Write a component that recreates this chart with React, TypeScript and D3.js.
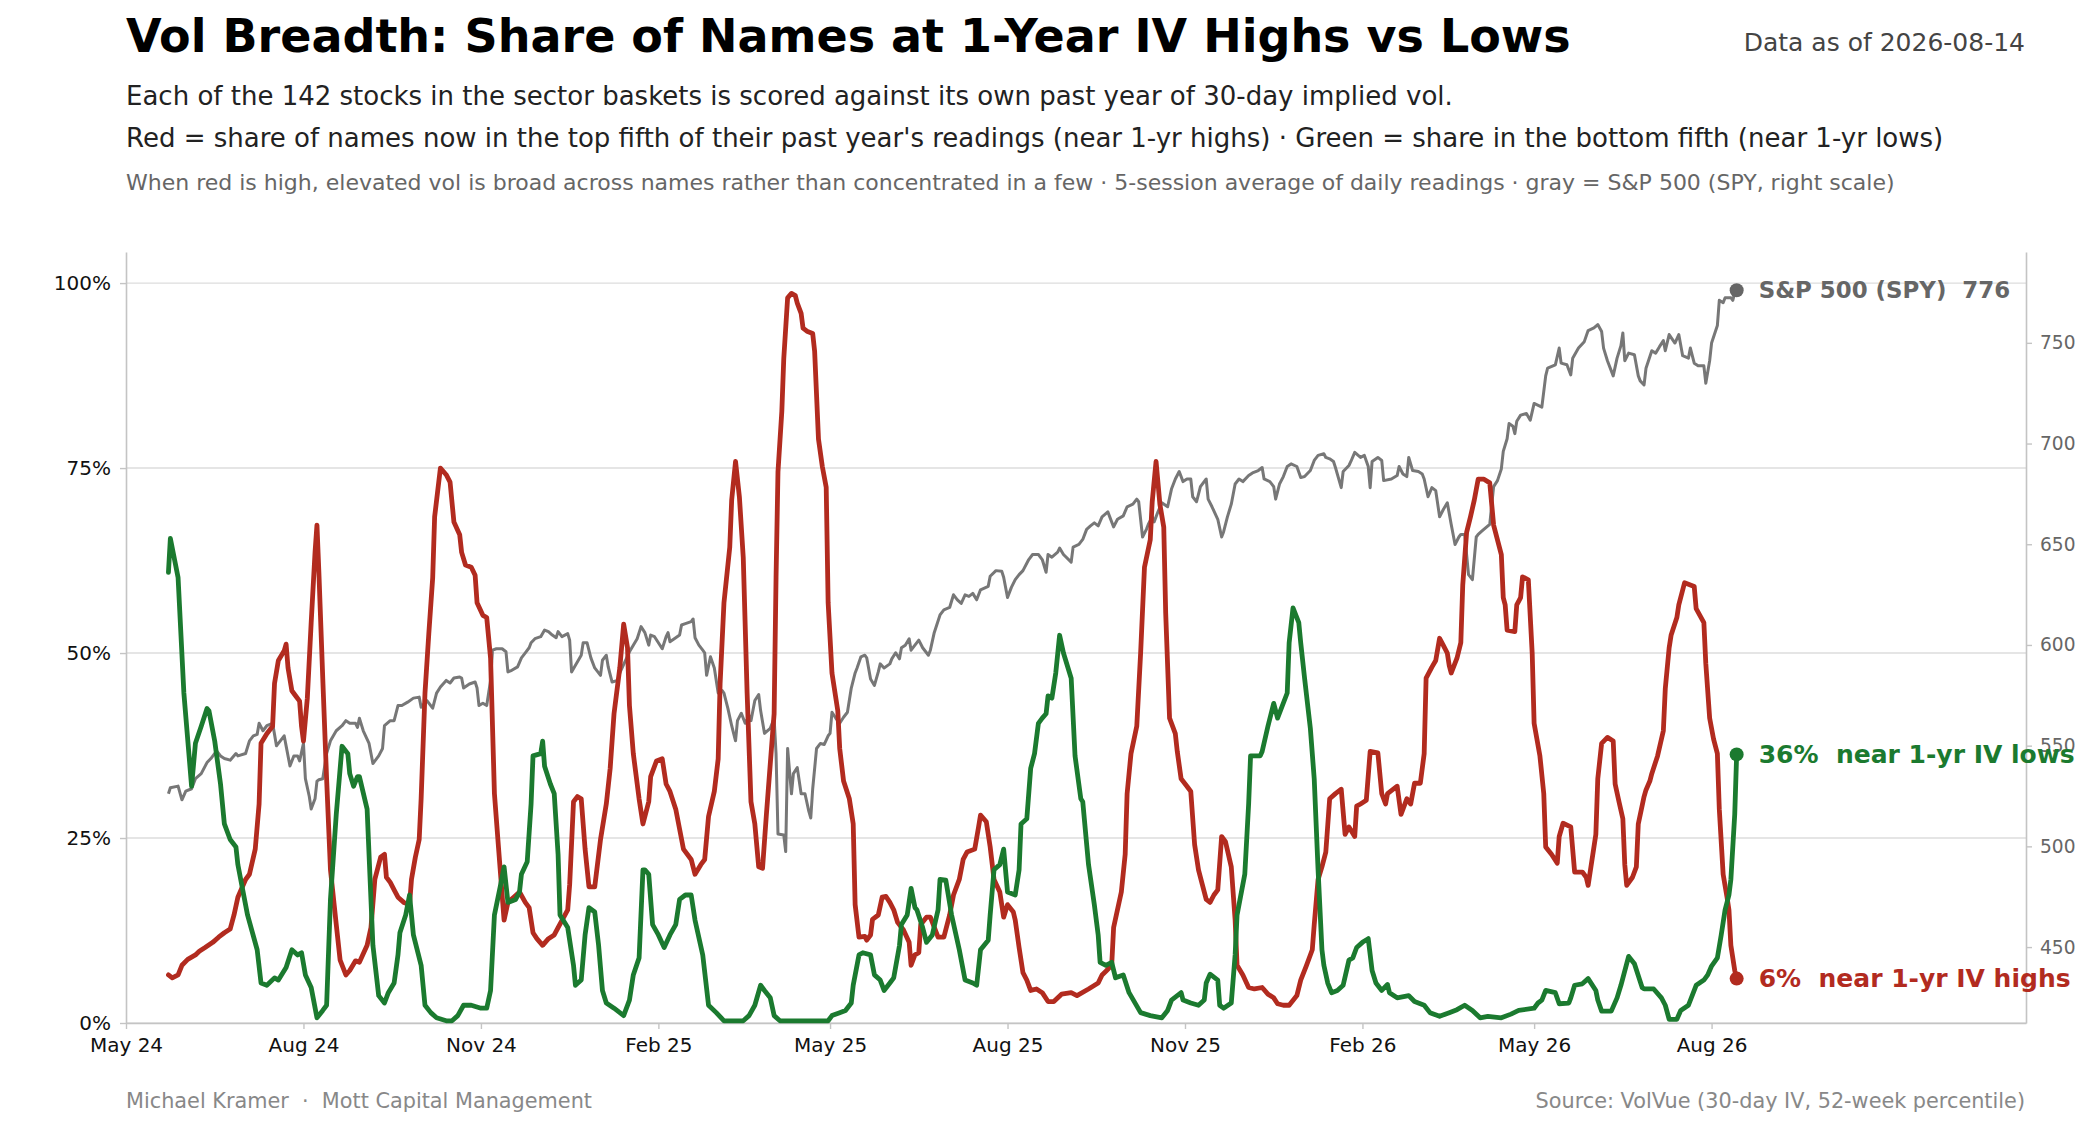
import React, { useEffect, useRef } from 'react';
import * as d3 from 'd3';

type Pt = [string, number];

// share of names in the top fifth of their 1-yr IV range (5-session avg), %
const redHighs: Pt[] = [
  ["2024-05-23",6.5],["2024-05-25",6.1],["2024-05-28",6.5],["2024-05-30",7.8],["2024-06-02",8.6],["2024-06-06",9.2],
  ["2024-06-08",9.7],["2024-06-11",10.2],["2024-06-15",10.9],["2024-06-18",11.6],["2024-06-21",12.2],["2024-06-24",12.7],
  ["2024-06-26",14.6],["2024-06-28",17.0],["2024-07-02",19.4],["2024-07-04",20.1],["2024-07-07",23.5],["2024-07-09",29.6],
  ["2024-07-10",37.8],["2024-07-13",39.1],["2024-07-16",40.1],["2024-07-17",45.9],["2024-07-19",49.0],["2024-07-22",50.3],
  ["2024-07-23",51.2],["2024-07-24",48.0],["2024-07-26",44.9],["2024-07-28",44.2],["2024-07-30",43.5],["2024-07-31",40.1],
  ["2024-08-01",38.1],["2024-08-03",43.9],["2024-08-05",54.1],["2024-08-07",63.6],["2024-08-08",67.3],["2024-08-09",60.9],
  ["2024-08-11",46.6],["2024-08-13",33.0],["2024-08-15",20.7],["2024-08-18",13.3],["2024-08-20",8.5],["2024-08-23",6.5],
  ["2024-08-25",7.1],["2024-08-28",8.4],["2024-08-30",8.2],["2024-09-03",10.5],["2024-09-05",12.9],["2024-09-07",19.4],
  ["2024-09-10",22.4],["2024-09-12",22.8],["2024-09-13",19.7],["2024-09-15",19.0],["2024-09-17",18.0],["2024-09-19",17.0],
  ["2024-09-22",16.3],["2024-09-25",16.0],["2024-09-26",19.4],["2024-09-28",22.4],["2024-09-30",24.8],["2024-10-01",30.3],
  ["2024-10-03",44.6],["2024-10-05",52.7],["2024-10-07",60.2],["2024-10-08",68.4],["2024-10-11",75.0],["2024-10-14",74.1],
  ["2024-10-16",73.1],["2024-10-18",67.7],["2024-10-21",66.0],["2024-10-22",63.6],["2024-10-24",61.9],["2024-10-27",61.6],
  ["2024-10-29",60.5],["2024-10-30",56.8],["2024-11-02",55.1],["2024-11-04",54.8],["2024-11-06",49.3],["2024-11-08",31.0],
  ["2024-11-10",24.1],["2024-11-13",13.9],["2024-11-15",16.3],["2024-11-18",17.0],["2024-11-21",17.7],["2024-11-24",16.3],
  ["2024-11-26",15.6],["2024-11-28",12.2],["2024-11-30",11.4],["2024-12-03",10.5],["2024-12-06",11.4],["2024-12-09",11.9],
  ["2024-12-11",12.9],["2024-12-16",15.3],["2024-12-17",18.7],["2024-12-19",29.9],["2024-12-21",30.6],["2024-12-23",30.3],
  ["2024-12-25",23.5],["2024-12-27",18.4],["2024-12-30",18.4],["2025-01-02",24.8],["2025-01-05",29.6],["2025-01-07",34.4],
  ["2025-01-09",41.8],["2025-01-12",48.0],["2025-01-14",53.9],["2025-01-16",50.7],["2025-01-17",42.9],["2025-01-19",36.4],
  ["2025-01-22",30.3],["2025-01-24",26.9],["2025-01-27",29.9],["2025-01-28",33.3],["2025-01-31",35.4],["2025-02-03",35.7],
  ["2025-02-05",32.3],["2025-02-07",31.3],["2025-02-10",28.9],["2025-02-12",26.2],["2025-02-14",23.5],["2025-02-18",22.1],
  ["2025-02-20",20.1],["2025-02-23",21.4],["2025-02-25",22.1],["2025-02-27",27.9],["2025-03-02",31.3],["2025-03-04",35.7],
  ["2025-03-05",45.9],["2025-03-07",56.8],["2025-03-10",64.3],["2025-03-11",70.7],["2025-03-13",75.9],["2025-03-15",71.1],
  ["2025-03-17",62.9],["2025-03-19",44.6],["2025-03-21",29.9],["2025-03-23",26.9],["2025-03-25",21.1],["2025-03-27",20.9],
  ["2025-03-29",28.2],["2025-03-31",35.0],["2025-04-02",41.8],["2025-04-03",60.2],["2025-04-04",74.5],["2025-04-06",82.7],
  ["2025-04-07",89.8],["2025-04-09",98.0],["2025-04-11",98.6],["2025-04-13",98.3],["2025-04-14",97.3],["2025-04-16",95.9],
  ["2025-04-17",93.9],["2025-04-19",93.5],["2025-04-22",93.2],["2025-04-23",90.8],["2025-04-25",78.9],["2025-04-27",75.2],
  ["2025-04-29",72.4],["2025-04-30",56.8],["2025-05-02",47.3],["2025-05-05",42.2],["2025-05-06",37.1],["2025-05-08",32.7],
  ["2025-05-11",30.3],["2025-05-13",26.9],["2025-05-14",16.0],["2025-05-16",11.6],["2025-05-19",11.7],["2025-05-20",11.2],
  ["2025-05-22",11.9],["2025-05-23",14.0],["2025-05-26",14.6],["2025-05-28",17.0],["2025-05-30",17.1],["2025-06-01",16.3],
  ["2025-06-03",15.3],["2025-06-05",13.6],["2025-06-08",12.6],["2025-06-11",10.9],["2025-06-12",7.8],["2025-06-14",9.2],
  ["2025-06-16",9.5],["2025-06-17",13.3],["2025-06-20",14.3],["2025-06-22",14.3],["2025-06-26",11.6],["2025-06-29",11.6],
  ["2025-07-02",14.6],["2025-07-04",17.3],["2025-07-07",19.4],["2025-07-09",22.1],["2025-07-11",23.1],["2025-07-15",23.5],
  ["2025-07-17",26.5],["2025-07-18",28.1],["2025-07-21",27.2],["2025-07-23",23.8],["2025-07-25",19.4],["2025-07-28",17.7],
  ["2025-07-30",14.3],["2025-08-01",16.0],["2025-08-04",15.0],["2025-08-05",13.9],["2025-08-07",10.2],["2025-08-09",6.8],
  ["2025-08-11",5.8],["2025-08-13",4.4],["2025-08-16",4.6],["2025-08-19",4.1],["2025-08-22",2.9],["2025-08-25",2.9],
  ["2025-08-29",3.9],["2025-09-03",4.1],["2025-09-06",3.7],["2025-09-12",4.6],["2025-09-17",5.4],["2025-09-19",6.5],
  ["2025-09-21",7.0],["2025-09-24",7.8],["2025-09-25",12.9],["2025-09-29",17.7],["2025-10-01",22.8],["2025-10-02",31.0],
  ["2025-10-04",36.4],["2025-10-07",40.1],["2025-10-09",50.0],["2025-10-11",61.6],["2025-10-14",65.3],["2025-10-15",70.4],
  ["2025-10-17",75.9],["2025-10-19",70.1],["2025-10-21",67.0],["2025-10-22",55.4],["2025-10-24",41.2],["2025-10-27",39.1],
  ["2025-10-28",36.7],["2025-10-30",33.0],["2025-11-02",32.0],["2025-11-04",31.3],["2025-11-06",24.1],["2025-11-08",20.7],
  ["2025-11-10",18.7],["2025-11-12",16.7],["2025-11-14",16.3],["2025-11-16",17.3],["2025-11-18",18.0],["2025-11-20",25.2],
  ["2025-11-22",24.5],["2025-11-25",21.1],["2025-11-27",13.9],["2025-11-28",7.8],["2025-12-01",6.5],["2025-12-04",4.8],
  ["2025-12-07",4.6],["2025-12-11",4.8],["2025-12-14",3.9],["2025-12-17",3.4],["2025-12-19",2.6],["2025-12-22",2.4],
  ["2025-12-25",2.4],["2025-12-29",3.7],["2025-12-31",5.8],["2026-01-03",7.8],["2026-01-06",9.9],["2026-01-07",13.3],
  ["2026-01-09",19.4],["2026-01-11",21.1],["2026-01-13",23.1],["2026-01-15",30.3],["2026-01-18",31.0],["2026-01-21",31.6],
  ["2026-01-23",25.5],["2026-01-25",26.5],["2026-01-28",25.2],["2026-01-29",29.3],["2026-01-31",29.6],["2026-02-03",30.1],
  ["2026-02-05",36.7],["2026-02-09",36.5],["2026-02-11",31.0],["2026-02-13",29.6],["2026-02-14",31.0],["2026-02-18",31.8],
  ["2026-02-19",32.0],["2026-02-21",28.2],["2026-02-24",30.3],["2026-02-26",29.6],["2026-02-28",32.4],["2026-03-03",32.4],
  ["2026-03-05",36.4],["2026-03-06",46.6],["2026-03-09",48.1],["2026-03-11",49.0],["2026-03-13",52.0],["2026-03-15",51.0],
  ["2026-03-17",50.0],["2026-03-18",48.3],["2026-03-19",47.3],["2026-03-22",49.3],["2026-03-24",51.4],["2026-03-25",59.2],
  ["2026-03-27",66.3],["2026-03-29",68.4],["2026-03-31",70.7],["2026-04-02",73.5],["2026-04-05",73.5],["2026-04-08",73.0],
  ["2026-04-10",67.3],["2026-04-12",65.3],["2026-04-14",63.3],["2026-04-15",57.5],["2026-04-16",56.5],["2026-04-17",53.1],
  ["2026-04-21",52.9],["2026-04-22",56.5],["2026-04-24",57.5],["2026-04-25",60.3],["2026-04-28",59.9],["2026-04-30",50.0],
  ["2026-05-01",40.5],["2026-05-04",36.1],["2026-05-06",31.0],["2026-05-07",23.8],["2026-05-10",22.8],["2026-05-13",21.6],
  ["2026-05-14",25.2],["2026-05-16",27.0],["2026-05-20",26.5],["2026-05-22",20.4],["2026-05-26",20.4],["2026-05-28",19.7],
  ["2026-05-29",18.6],["2026-06-02",25.5],["2026-06-03",33.0],["2026-06-05",37.8],["2026-06-08",38.6],["2026-06-11",38.1],
  ["2026-06-12",32.3],["2026-06-14",29.9],["2026-06-16",27.6],["2026-06-17",21.4],["2026-06-18",18.6],["2026-06-21",19.7],
  ["2026-06-23",21.1],["2026-06-24",26.9],["2026-06-27",30.6],["2026-06-28",31.5],["2026-06-30",32.7],["2026-07-01",33.7],
  ["2026-07-04",36.1],["2026-07-07",39.5],["2026-07-08",45.2],["2026-07-10",50.7],["2026-07-11",52.4],["2026-07-14",54.8],
  ["2026-07-15",56.5],["2026-07-18",59.5],["2026-07-21",59.2],["2026-07-23",59.0],["2026-07-24",56.0],["2026-07-28",54.1],
  ["2026-07-29",48.6],["2026-07-31",41.2],["2026-08-02",38.4],["2026-08-04",36.4],["2026-08-05",28.9],["2026-08-07",20.1],
  ["2026-08-09",17.0],["2026-08-10",15.3],["2026-08-11",10.5],["2026-08-13",7.1],["2026-08-14",6.0],
];

// share of names in the bottom fifth of their 1-yr IV range (5-session avg), %
const greenLows: Pt[] = [
  ["2024-05-23",60.9],["2024-05-24",65.5],["2024-05-28",60.2],["2024-05-31",44.6],["2024-06-04",32.0],["2024-06-06",37.8],
  ["2024-06-09",40.1],["2024-06-12",42.5],["2024-06-13",42.2],["2024-06-16",38.1],["2024-06-19",32.3],["2024-06-21",26.9],
  ["2024-06-24",24.8],["2024-06-27",23.8],["2024-06-28",21.4],["2024-07-03",14.6],["2024-07-08",9.9],["2024-07-10",5.4],
  ["2024-07-13",5.1],["2024-07-17",6.1],["2024-07-19",5.8],["2024-07-23",7.5],["2024-07-26",9.9],["2024-07-29",9.2],
  ["2024-07-31",9.5],["2024-08-02",6.5],["2024-08-05",4.8],["2024-08-08",0.7],["2024-08-11",1.7],["2024-08-13",2.4],
  ["2024-08-15",16.7],["2024-08-18",28.2],["2024-08-21",37.4],["2024-08-24",36.4],["2024-08-25",33.7],["2024-08-27",32.0],
  ["2024-08-29",33.3],["2024-08-30",33.3],["2024-09-03",28.9],["2024-09-06",10.5],["2024-09-09",3.7],["2024-09-12",2.7],
  ["2024-09-14",4.1],["2024-09-17",5.4],["2024-09-19",9.2],["2024-09-20",12.2],["2024-09-23",14.6],["2024-09-25",17.3],
  ["2024-09-27",11.9],["2024-10-01",7.8],["2024-10-03",2.4],["2024-10-06",1.4],["2024-10-09",0.7],["2024-10-14",0.3],
  ["2024-10-17",0.3],["2024-10-20",1.0],["2024-10-23",2.4],["2024-10-27",2.4],["2024-11-01",2.0],["2024-11-04",2.0],
  ["2024-11-06",4.4],["2024-11-08",14.6],["2024-11-11",18.4],["2024-11-13",21.1],["2024-11-15",16.3],["2024-11-19",16.7],
  ["2024-11-21",17.7],["2024-11-22",20.1],["2024-11-25",21.8],["2024-11-27",29.6],["2024-11-28",36.1],["2024-12-02",36.4],
  ["2024-12-03",38.1],["2024-12-04",34.7],["2024-12-07",32.3],["2024-12-09",31.0],["2024-12-11",22.8],["2024-12-12",14.6],
  ["2024-12-16",12.9],["2024-12-19",7.8],["2024-12-20",5.1],["2024-12-23",5.8],["2024-12-25",11.9],["2024-12-27",15.6],
  ["2024-12-30",15.0],["2025-01-01",10.5],["2025-01-03",4.4],["2025-01-05",2.7],["2025-01-09",2.0],["2025-01-14",1.0],
  ["2025-01-17",3.1],["2025-01-19",6.5],["2025-01-22",8.8],["2025-01-24",20.7],["2025-01-25",20.7],["2025-01-27",20.1],
  ["2025-01-29",13.3],["2025-02-01",11.9],["2025-02-04",10.2],["2025-02-07",11.9],["2025-02-10",13.3],["2025-02-12",16.7],
  ["2025-02-15",17.3],["2025-02-18",17.3],["2025-02-20",13.9],["2025-02-24",9.2],["2025-02-27",2.4],["2025-03-03",1.4],
  ["2025-03-07",0.3],["2025-03-17",0.3],["2025-03-20",1.0],["2025-03-23",2.4],["2025-03-26",5.1],["2025-03-28",4.4],
  ["2025-03-31",3.4],["2025-04-02",1.0],["2025-04-05",0.3],["2025-04-30",0.3],["2025-05-02",1.0],["2025-05-06",1.4],
  ["2025-05-09",1.7],["2025-05-12",2.7],["2025-05-13",5.1],["2025-05-16",9.2],["2025-05-18",9.5],["2025-05-22",9.2],
  ["2025-05-24",6.5],["2025-05-27",5.8],["2025-05-29",4.4],["2025-06-01",5.4],["2025-06-03",6.1],["2025-06-06",10.5],
  ["2025-06-07",13.3],["2025-06-10",14.6],["2025-06-12",18.2],["2025-06-14",15.6],["2025-06-15",15.3],["2025-06-18",12.9],
  ["2025-06-20",10.9],["2025-06-23",11.9],["2025-06-26",15.3],["2025-06-27",19.4],["2025-06-30",19.3],["2025-07-03",14.6],
  ["2025-07-07",9.9],["2025-07-10",5.8],["2025-07-14",5.4],["2025-07-16",5.1],["2025-07-18",9.9],["2025-07-22",11.2],
  ["2025-07-23",14.6],["2025-07-25",20.7],["2025-07-28",21.4],["2025-07-30",23.5],["2025-08-01",17.7],["2025-08-05",17.3],
  ["2025-08-07",20.7],["2025-08-08",26.9],["2025-08-11",27.6],["2025-08-13",34.4],["2025-08-15",36.4],["2025-08-17",40.5],
  ["2025-08-19",41.2],["2025-08-21",41.8],["2025-08-22",44.2],["2025-08-24",43.9],["2025-08-26",47.3],["2025-08-28",52.4],
  ["2025-08-30",50.0],["2025-09-03",46.6],["2025-09-05",36.1],["2025-09-08",30.3],["2025-09-09",29.9],["2025-09-12",21.4],
  ["2025-09-15",16.0],["2025-09-17",11.9],["2025-09-18",8.2],["2025-09-21",7.8],["2025-09-24",8.2],["2025-09-26",6.1],
  ["2025-09-30",6.5],["2025-10-03",4.1],["2025-10-09",1.4],["2025-10-14",1.0],["2025-10-20",0.7],["2025-10-23",1.7],
  ["2025-10-25",3.1],["2025-10-30",4.1],["2025-10-31",3.1],["2025-11-04",2.7],["2025-11-08",2.4],["2025-11-11",3.1],
  ["2025-11-12",5.4],["2025-11-14",6.6],["2025-11-18",5.8],["2025-11-19",2.4],["2025-11-21",2.0],["2025-11-25",2.7],
  ["2025-11-27",9.2],["2025-11-28",14.6],["2025-12-02",20.1],["2025-12-04",29.6],["2025-12-05",36.1],["2025-12-10",36.1],
  ["2025-12-11",36.7],["2025-12-14",40.1],["2025-12-17",43.2],["2025-12-19",41.2],["2025-12-24",44.6],["2025-12-25",51.4],
  ["2025-12-27",56.1],["2025-12-30",54.1],["2025-12-31",51.4],["2026-01-02",46.6],["2026-01-05",39.8],["2026-01-07",33.0],
  ["2026-01-09",20.7],["2026-01-11",9.9],["2026-01-12",7.8],["2026-01-14",5.4],["2026-01-16",4.1],["2026-01-19",4.4],
  ["2026-01-22",5.1],["2026-01-25",8.5],["2026-01-27",8.8],["2026-01-29",10.2],["2026-02-01",10.9],["2026-02-04",11.4],
  ["2026-02-06",7.1],["2026-02-08",5.4],["2026-02-11",4.4],["2026-02-14",5.2],["2026-02-15",4.1],["2026-02-19",3.4],
  ["2026-02-25",3.7],["2026-02-28",2.9],["2026-03-05",2.4],["2026-03-08",1.4],["2026-03-13",0.9],["2026-03-18",1.4],
  ["2026-03-22",1.8],["2026-03-26",2.4],["2026-03-30",1.7],["2026-04-03",0.7],["2026-04-07",0.9],["2026-04-14",0.7],
  ["2026-04-19",1.2],["2026-04-23",1.7],["2026-05-01",2.0],["2026-05-03",2.7],["2026-05-05",3.1],["2026-05-07",4.4],
  ["2026-05-12",4.1],["2026-05-14",2.6],["2026-05-19",2.7],["2026-05-20",3.4],["2026-05-22",5.1],["2026-05-26",5.3],
  ["2026-05-29",6.0],["2026-06-02",4.4],["2026-06-03",3.1],["2026-06-05",1.6],["2026-06-10",1.6],["2026-06-13",3.4],
  ["2026-06-15",5.1],["2026-06-19",9.0],["2026-06-22",8.0],["2026-06-26",4.8],["2026-06-27",4.6],["2026-07-02",4.6],
  ["2026-07-06",3.4],["2026-07-08",2.4],["2026-07-10",0.5],["2026-07-14",0.5],["2026-07-16",1.7],["2026-07-20",2.4],
  ["2026-07-24",5.1],["2026-07-28",5.8],["2026-07-30",6.5],["2026-08-01",7.7],["2026-08-04",8.8],["2026-08-06",11.9],
  ["2026-08-08",15.3],["2026-08-10",17.3],["2026-08-11",19.4],["2026-08-13",28.2],["2026-08-14",36.3],
];

// S&P 500 (SPY) close, right scale
const spyClose: Pt[] = [
  ["2024-05-23",526.1],["2024-05-24",529.1],["2024-05-28",529.9],["2024-05-30",523.1],["2024-06-01",527.4],["2024-06-04",528.6],
  ["2024-06-06",533.6],["2024-06-09",536.1],["2024-06-12",541.6],["2024-06-14",543.6],["2024-06-17",547.4],["2024-06-19",544.9],
  ["2024-06-21",543.6],["2024-06-24",542.8],["2024-06-27",546.1],["2024-06-28",544.9],["2024-07-02",546.1],["2024-07-04",552.4],
  ["2024-07-06",554.9],["2024-07-08",555.6],["2024-07-09",561.1],["2024-07-11",557.4],["2024-07-13",559.9],["2024-07-16",561.1],
  ["2024-07-17",555.6],["2024-07-18",549.9],["2024-07-20",552.4],["2024-07-22",554.9],["2024-07-23",549.9],["2024-07-25",539.9],
  ["2024-07-27",544.9],["2024-07-29",544.9],["2024-07-30",542.4],["2024-08-01",551.1],["2024-08-02",533.6],["2024-08-04",524.9],
  ["2024-08-05",518.6],["2024-08-07",523.6],["2024-08-08",532.4],["2024-08-09",533.1],["2024-08-11",533.6],["2024-08-13",546.1],
  ["2024-08-15",552.4],["2024-08-18",557.4],["2024-08-21",559.9],["2024-08-23",562.4],["2024-08-25",561.1],["2024-08-28",561.1],
  ["2024-08-29",559.1],["2024-08-30",563.6],["2024-09-01",557.4],["2024-09-04",551.1],["2024-09-06",541.1],["2024-09-09",544.9],
  ["2024-09-11",548.6],["2024-09-12",559.9],["2024-09-15",562.4],["2024-09-17",562.4],["2024-09-19",569.9],["2024-09-21",569.9],
  ["2024-09-24",571.6],["2024-09-27",573.6],["2024-09-30",574.1],["2024-10-01",569.1],["2024-10-04",572.4],["2024-10-07",568.6],
  ["2024-10-09",576.1],["2024-10-11",579.1],["2024-10-14",582.4],["2024-10-16",581.1],["2024-10-18",583.6],["2024-10-21",584.1],
  ["2024-10-22",583.6],["2024-10-23",578.6],["2024-10-26",580.6],["2024-10-29",581.6],["2024-10-30",578.6],["2024-10-31",569.9],
  ["2024-11-02",571.1],["2024-11-04",569.9],["2024-11-06",582.4],["2024-11-07",597.4],["2024-11-09",598.1],["2024-11-12",598.1],
  ["2024-11-14",596.6],["2024-11-15",586.6],["2024-11-17",587.4],["2024-11-20",589.1],["2024-11-22",593.6],["2024-11-24",596.1],
  ["2024-11-26",598.6],["2024-11-27",601.1],["2024-11-29",603.1],["2024-12-02",604.1],["2024-12-04",607.4],["2024-12-06",606.6],
  ["2024-12-08",604.9],["2024-12-10",603.6],["2024-12-11",606.6],["2024-12-13",604.1],["2024-12-16",605.6],["2024-12-17",602.4],
  ["2024-12-18",586.6],["2024-12-20",589.9],["2024-12-23",594.9],["2024-12-24",601.1],["2024-12-26",601.1],["2024-12-28",593.6],
  ["2024-12-30",588.6],["2025-01-02",584.9],["2025-01-03",592.4],["2025-01-05",594.9],["2025-01-06",589.1],["2025-01-08",581.6],
  ["2025-01-11",582.4],["2025-01-12",586.1],["2025-01-17",596.6],["2025-01-19",599.9],["2025-01-21",603.1],["2025-01-23",609.1],
  ["2025-01-25",606.1],["2025-01-27",599.9],["2025-01-28",604.9],["2025-01-30",604.1],["2025-02-01",601.1],["2025-02-03",598.1],
  ["2025-02-05",604.1],["2025-02-06",606.1],["2025-02-07",601.6],["2025-02-10",603.6],["2025-02-12",604.9],["2025-02-13",609.9],
  ["2025-02-15",610.6],["2025-02-18",611.6],["2025-02-19",612.9],["2025-02-20",603.6],["2025-02-22",599.9],["2025-02-24",597.4],
  ["2025-02-25",596.1],["2025-02-26",584.9],["2025-02-28",594.1],["2025-03-02",588.6],["2025-03-04",576.1],["2025-03-06",577.4],
  ["2025-03-07",576.1],["2025-03-09",568.6],["2025-03-11",559.9],["2025-03-12",556.1],["2025-03-13",552.4],["2025-03-14",562.4],
  ["2025-03-16",566.1],["2025-03-18",561.1],["2025-03-20",564.9],["2025-03-21",562.4],["2025-03-23",572.4],["2025-03-25",575.4],
  ["2025-03-26",567.4],["2025-03-28",556.1],["2025-03-31",558.6],["2025-04-02",563.6],["2025-04-03",546.1],["2025-04-04",506.1],
  ["2025-04-07",505.6],["2025-04-08",497.4],["2025-04-09",548.6],["2025-04-11",526.1],["2025-04-12",536.1],["2025-04-14",539.1],
  ["2025-04-16",526.1],["2025-04-18",526.1],["2025-04-20",517.4],["2025-04-21",514.1],["2025-04-22",528.6],["2025-04-24",548.6],
  ["2025-04-26",551.1],["2025-04-28",550.6],["2025-04-30",554.9],["2025-05-01",556.1],["2025-05-02",566.6],["2025-05-04",563.6],
  ["2025-05-06",561.1],["2025-05-08",564.1],["2025-05-10",566.6],["2025-05-12",578.6],["2025-05-14",586.1],["2025-05-15",588.6],
  ["2025-05-17",594.1],["2025-05-19",594.9],["2025-05-20",593.6],["2025-05-22",583.1],["2025-05-24",579.9],["2025-05-26",586.6],
  ["2025-05-27",590.6],["2025-05-29",588.6],["2025-06-01",590.6],["2025-06-02",593.1],["2025-06-04",596.1],["2025-06-06",593.1],
  ["2025-06-07",598.6],["2025-06-09",599.9],["2025-06-11",603.1],["2025-06-12",597.4],["2025-06-14",599.9],["2025-06-16",602.4],
  ["2025-06-18",598.6],["2025-06-21",594.9],["2025-06-22",597.4],["2025-06-24",606.1],["2025-06-27",614.9],["2025-06-29",617.4],
  ["2025-07-02",618.6],["2025-07-04",624.9],["2025-07-06",622.4],["2025-07-08",620.6],["2025-07-10",624.9],["2025-07-12",624.1],
  ["2025-07-14",625.6],["2025-07-16",622.4],["2025-07-18",627.4],["2025-07-22",629.1],["2025-07-23",634.1],["2025-07-26",636.9],
  ["2025-07-29",636.6],["2025-07-30",633.6],["2025-08-01",623.6],["2025-08-03",628.6],["2025-08-05",632.4],["2025-08-07",634.9],
  ["2025-08-09",636.9],["2025-08-12",642.4],["2025-08-14",644.9],["2025-08-17",644.9],["2025-08-19",642.4],["2025-08-21",636.1],
  ["2025-08-22",644.9],["2025-08-24",643.6],["2025-08-27",646.1],["2025-08-28",648.1],["2025-08-30",644.9],["2025-09-03",641.1],
  ["2025-09-04",648.6],["2025-09-07",649.9],["2025-09-09",652.4],["2025-09-11",657.4],["2025-09-13",659.1],["2025-09-15",660.6],
  ["2025-09-17",659.1],["2025-09-19",663.6],["2025-09-22",666.1],["2025-09-23",663.6],["2025-09-25",658.6],["2025-09-27",662.4],
  ["2025-09-30",664.1],["2025-10-02",668.6],["2025-10-05",669.9],["2025-10-07",672.4],["2025-10-08",671.1],["2025-10-10",653.6],
  ["2025-10-12",657.4],["2025-10-13",659.9],["2025-10-15",663.6],["2025-10-16",661.1],["2025-10-18",666.1],["2025-10-20",670.6],
  ["2025-10-23",668.6],["2025-10-25",677.4],["2025-10-27",682.4],["2025-10-29",686.1],["2025-10-31",681.1],["2025-11-02",682.4],
  ["2025-11-04",682.4],["2025-11-05",673.6],["2025-11-07",671.1],["2025-11-09",678.6],["2025-11-12",682.4],["2025-11-13",672.4],
  ["2025-11-15",668.6],["2025-11-18",662.4],["2025-11-20",653.6],["2025-11-21",656.1],["2025-11-23",663.6],["2025-11-25",669.9],
  ["2025-11-27",679.9],["2025-11-29",682.4],["2025-12-01",681.1],["2025-12-04",684.1],["2025-12-06",685.4],["2025-12-09",686.6],
  ["2025-12-11",688.1],["2025-12-12",682.4],["2025-12-15",681.1],["2025-12-17",678.6],["2025-12-18",672.4],["2025-12-20",679.9],
  ["2025-12-22",683.6],["2025-12-24",688.6],["2025-12-26",689.9],["2025-12-29",688.6],["2025-12-31",683.1],["2026-01-02",683.6],
  ["2026-01-05",686.6],["2026-01-07",691.6],["2026-01-09",694.1],["2026-01-12",694.9],["2026-01-13",693.1],["2026-01-15",692.4],
  ["2026-01-17",691.1],["2026-01-18",688.1],["2026-01-21",678.1],["2026-01-22",686.1],["2026-01-25",689.1],["2026-01-26",691.1],
  ["2026-01-28",695.6],["2026-01-31",693.1],["2026-02-02",694.1],["2026-02-04",688.6],["2026-02-05",678.1],["2026-02-06",691.1],
  ["2026-02-09",693.1],["2026-02-11",691.6],["2026-02-12",681.6],["2026-02-16",682.4],["2026-02-19",684.1],["2026-02-20",688.6],
  ["2026-02-22",684.9],["2026-02-24",683.6],["2026-02-25",693.1],["2026-02-27",686.6],["2026-03-02",686.1],["2026-03-04",684.9],
  ["2026-03-05",682.4],["2026-03-07",673.6],["2026-03-09",678.1],["2026-03-11",676.6],["2026-03-13",663.6],["2026-03-15",667.4],
  ["2026-03-17",670.6],["2026-03-19",659.9],["2026-03-21",649.9],["2026-03-23",653.6],["2026-03-24",654.9],["2026-03-26",654.9],
  ["2026-03-28",634.9],["2026-03-30",632.4],["2026-04-01",653.6],["2026-04-02",654.9],["2026-04-04",656.6],["2026-04-08",659.9],
  ["2026-04-10",678.6],["2026-04-12",681.6],["2026-04-14",687.4],["2026-04-15",696.1],["2026-04-17",702.4],["2026-04-18",709.9],
  ["2026-04-20",708.6],["2026-04-21",704.9],["2026-04-22",711.1],["2026-04-24",714.1],["2026-04-27",714.9],["2026-04-29",711.6],
  ["2026-05-01",719.9],["2026-05-05",718.1],["2026-05-07",733.6],["2026-05-08",737.4],["2026-05-12",739.1],["2026-05-14",747.4],
  ["2026-05-15",739.9],["2026-05-18",739.1],["2026-05-20",734.1],["2026-05-21",742.4],["2026-05-24",747.4],["2026-05-27",750.6],
  ["2026-05-29",756.1],["2026-06-01",757.4],["2026-06-03",759.1],["2026-06-05",755.6],["2026-06-06",747.4],["2026-06-08",741.1],
  ["2026-06-11",733.6],["2026-06-13",742.4],["2026-06-15",748.6],["2026-06-16",754.9],["2026-06-17",741.1],["2026-06-19",744.9],
  ["2026-06-22",744.1],["2026-06-24",733.6],["2026-06-25",731.1],["2026-06-27",729.1],["2026-06-28",737.4],["2026-07-01",746.1],
  ["2026-07-03",744.9],["2026-07-05",748.1],["2026-07-07",751.1],["2026-07-08",746.1],["2026-07-10",754.1],["2026-07-13",749.9],
  ["2026-07-15",754.1],["2026-07-17",743.6],["2026-07-20",742.4],["2026-07-21",747.4],["2026-07-23",739.9],["2026-07-25",738.6],
  ["2026-07-28",738.6],["2026-07-29",729.9],["2026-07-31",741.1],["2026-08-01",749.9],["2026-08-04",758.6],["2026-08-05",771.1],
  ["2026-08-07",769.9],["2026-08-08",772.4],["2026-08-11",772.4],["2026-08-12",771.1],["2026-08-13",774.9],["2026-08-14",776.1],
];

const pctTicks = [0, 25, 50, 75, 100];
const spyTicks = [450, 500, 550, 600, 650, 700, 750];
const monthTicks = [
  "2024-05-01", "2024-08-01", "2024-11-01", "2025-02-01", "2025-05-01",
  "2025-08-01", "2025-11-01", "2026-02-01", "2026-05-01", "2026-08-01",
];

const titleText = "Vol Breadth: Share of Names at 1-Year IV Highs vs Lows";
const asOfText = "Data as of 2026-08-14";
const subLines = [
  "Each of the 142 stocks in the sector baskets is scored against its own past year of 30-day implied vol.",
  "Red = share of names now in the top fifth of their past year's readings (near 1-yr highs) \u00b7 Green = share in the bottom fifth (near 1-yr lows)",
];
const noteText = "When red is high, elevated vol is broad across names rather than concentrated in a few \u00b7 5-session average of daily readings \u00b7 gray = S&P 500 (SPY, right scale)";
const creditText = "Michael Kramer  \u00b7  Mott Capital Management";
const sourceText = "Source: VolVue (30-day IV, 52-week percentile)";

const RED = "#b22b1f";
const GREEN = "#1b7a2f";
const GRAY = "#777777";
const FONT = "'DejaVu Sans', sans-serif";

export default function App() {
  const chartRef = useRef<SVGSVGElement>(null);

  useEffect(() => {
    if (!chartRef.current) return;
    drawChart();
  }, []);

  const drawChart = () => {
    if (!chartRef.current) return;

    const W = 2100, H = 1125;
    const margin = { top: 252, right: 74, bottom: 102, left: 126 };
    const parse = d3.utcParse("%Y-%m-%d");

    const svg = d3.select(chartRef.current);
    svg.selectAll("*").remove();
    svg.attr("width", W).attr("height", H).style("font-family", FONT);

    svg.append("rect").attr("width", W).attr("height", H).attr("fill", "#fff");

    const x = d3.scaleUtc()
      .domain([parse("2024-05-01")!, parse("2027-01-11")!])
      .range([margin.left, W - margin.right]);
    const yPct = d3.scaleLinear().domain([0, 104.2]).range([H - margin.bottom, margin.top]);
    const ySpy = d3.scaleLinear().domain([412.3, 795.1]).range([H - margin.bottom, margin.top]);

    // grid
    svg.append("g")
      .selectAll("line")
      .data(pctTicks)
      .enter()
      .append("line")
      .attr("x1", margin.left)
      .attr("x2", W - margin.right)
      .attr("y1", d => yPct(d))
      .attr("y2", d => yPct(d))
      .attr("stroke", "#dddddd")
      .attr("stroke-width", 1.4);

    // axes
    const styleAxis = (g: any, color: string, size: number) => {
      g.select(".domain").attr("stroke", "#c4c4c4").attr("stroke-width", 1.6);
      g.selectAll(".tick line").attr("stroke", "#c4c4c4").attr("stroke-width", 1.4);
      g.selectAll("text").attr("font-size", size).attr("fill", color).style("font-family", FONT);
    };

    const leftAxis = svg.append("g")
      .attr("transform", `translate(${margin.left},0)`)
      .call(d3.axisLeft(yPct).tickValues(pctTicks).tickFormat((d: any) => `${d}%`).tickSize(6).tickSizeOuter(0).tickPadding(9));
    styleAxis(leftAxis, "#111", 20);

    const rightAxis = svg.append("g")
      .attr("transform", `translate(${W - margin.right},0)`)
      .call(d3.axisRight(ySpy).tickValues(spyTicks).tickFormat(d3.format("d") as any).tickSize(6).tickSizeOuter(0).tickPadding(8));
    styleAxis(rightAxis, "#666", 18.6);

    const bottomAxis = svg.append("g")
      .attr("transform", `translate(0,${H - margin.bottom})`)
      .call(d3.axisBottom(x).tickValues(monthTicks.map(d => parse(d)!)).tickFormat(d3.utcFormat("%b %y") as any).tickSize(6).tickSizeOuter(0).tickPadding(9));
    styleAxis(bottomAxis, "#111", 20);

    // lines
    const pctLine = d3.line<Pt>()
      .x(d => x(parse(d[0])!))
      .y(d => yPct(d[1]));
    const spyLine = d3.line<Pt>()
      .x(d => x(parse(d[0])!))
      .y(d => ySpy(d[1]));

    svg.append("path")
      .datum(spyClose)
      .attr("fill", "none")
      .attr("stroke", GRAY)
      .attr("stroke-width", 3)
      .attr("stroke-linejoin", "round")
      .attr("d", spyLine);

    svg.append("path")
      .datum(redHighs)
      .attr("fill", "none")
      .attr("stroke", RED)
      .attr("stroke-width", 4.8)
      .attr("stroke-linejoin", "round")
      .attr("stroke-linecap", "round")
      .attr("d", pctLine);

    svg.append("path")
      .datum(greenLows)
      .attr("fill", "none")
      .attr("stroke", GREEN)
      .attr("stroke-width", 4.8)
      .attr("stroke-linejoin", "round")
      .attr("stroke-linecap", "round")
      .attr("d", pctLine);

    // end markers + labels
    const lastSpy = spyClose[spyClose.length - 1];
    const lastRed = redHighs[redHighs.length - 1];
    const lastGreen = greenLows[greenLows.length - 1];

    const ends = [
      { pt: lastSpy, y: ySpy(lastSpy[1]), color: "#666666", size: 22.9, text: `S&P 500 (SPY)  ${d3.format(".0f")(lastSpy[1])}` },
      { pt: lastGreen, y: yPct(lastGreen[1]), color: GREEN, size: 25, text: `${d3.format(".0f")(lastGreen[1])}%  near 1-yr IV lows` },
      { pt: lastRed, y: yPct(lastRed[1]), color: RED, size: 25, text: `${d3.format(".0f")(lastRed[1])}%  near 1-yr IV highs` },
    ];

    ends.forEach(e => {
      const cx = x(parse(e.pt[0])!);
      svg.append("circle")
        .attr("cx", cx)
        .attr("cy", e.y)
        .attr("r", 7)
        .attr("fill", e.color);
      svg.append("text")
        .attr("x", cx + 22)
        .attr("y", e.y)
        .attr("dy", "0.35em")
        .attr("font-size", e.size)
        .attr("font-weight", "bold")
        .attr("fill", e.color)
        .style("white-space", "pre")
        .text(e.text);
    });

    // header
    svg.append("text")
      .attr("x", margin.left)
      .attr("y", 52)
      .attr("font-size", 46)
      .attr("font-weight", "bold")
      .attr("fill", "#000")
      .text(titleText);

    svg.append("text")
      .attr("x", 2025)
      .attr("y", 51)
      .attr("text-anchor", "end")
      .attr("font-size", 25)
      .attr("fill", "#444")
      .text(asOfText);

    subLines.forEach((line, i) => {
      svg.append("text")
        .attr("x", margin.left)
        .attr("y", 105 + i * 42)
        .attr("font-size", 26)
        .attr("fill", "#222")
        .text(line);
    });

    svg.append("text")
      .attr("x", margin.left)
      .attr("y", 190)
      .attr("font-size", 22)
      .attr("fill", "#666")
      .text(noteText);

    // footer
    svg.append("text")
      .attr("x", margin.left)
      .attr("y", 1108)
      .attr("font-size", 20.8)
      .attr("fill", "#888")
      .style("white-space", "pre")
      .text(creditText);

    svg.append("text")
      .attr("x", 2025)
      .attr("y", 1108)
      .attr("text-anchor", "end")
      .attr("font-size", 20.8)
      .attr("fill", "#888")
      .text(sourceText);
  };

  return (
    <div>
      <style>{`body { margin: 0; }`}</style>
      <svg ref={chartRef} style={{ display: 'block' }}></svg>
    </div>
  );
}
